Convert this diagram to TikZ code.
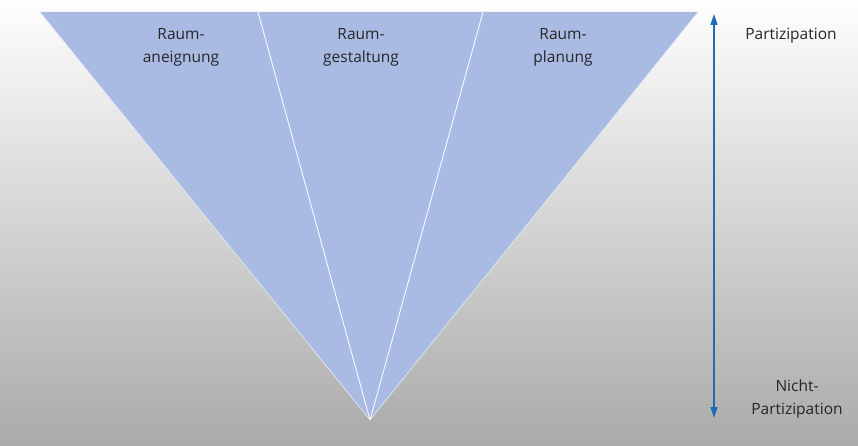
\documentclass[tikz,border=0pt]{standalone}
\usepackage{fontspec}
\setmainfont{Open Sans}
\usetikzlibrary{arrows.meta}
\definecolor{fanblue}{RGB}{170,187,227}
\definecolor{arrowblue}{RGB}{30,108,180}
\definecolor{bgtop}{RGB}{254,254,254}
\definecolor{bgbottom}{RGB}{170,170,170}
\tikzset{
  BaseNode/.style = {align=center, inner sep=2pt, text centered, font=\fontsize{15.5}{23}\selectfont, text=black!85},
  FieldNode/.style = {BaseNode},
  ScaleNode/.style = {BaseNode},
  Divider/.style = {draw=white!92!fanblue, line width=0.9pt},
  ScaleArrow/.style = {arrowblue, line width=1.4pt, {Triangle[length=11pt,width=7pt]}-{Triangle[length=11pt,width=7pt]}},
}
\begin{document}
\begin{tikzpicture}[x=1pt,y=-1pt]
    \shade[top color=bgtop, bottom color=bgbottom] (0,0) rectangle (858,446);
    \useasboundingbox (0,0) rectangle (858,446);
    % fan
    \coordinate (apex) at (370,420);
    \coordinate (left) at (40,12);
    \coordinate (right) at (698,12);
    \coordinate (cutA) at (258,12);
    \coordinate (cutB) at (483,12);
    \fill[fanblue] (left) -- (right) -- (apex) -- cycle;
    \draw[Divider] (apex) -- (cutA);
    \draw[Divider] (apex) -- (cutB);
    \draw[draw=white!70!fanblue, line width=0.6pt] (left) -- (apex) -- (right);
    % labels
    \node [FieldNode] (aneignung) at (181,47) {Raum-\\aneignung};
    \node [FieldNode] (gestaltung) at (361,47) {Raum-\\gestaltung};
    \node [FieldNode] (planung) at (563,47) {Raum-\\planung};
    % scale
    \coordinate (top) at (714,14);
    \coordinate (bottom) at (714,418);
    \draw[ScaleArrow] (bottom) -- (top);
    \node [ScaleNode] (part) at (791,36) {Partizipation};
    \node [ScaleNode] (nicht) at (797,399) {Nicht-\\Partizipation};
\end{tikzpicture}
\end{document}
